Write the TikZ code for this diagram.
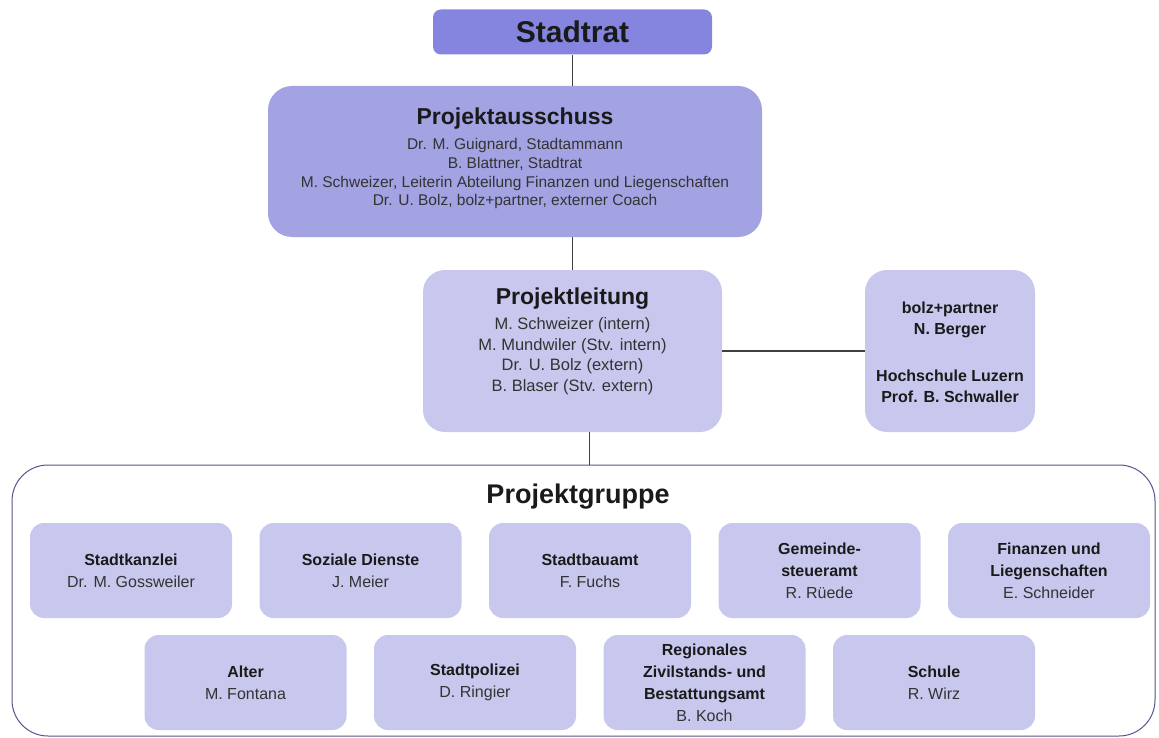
\documentclass[tikz,border=0pt]{standalone}
\usepackage{fontspec}
\setmainfont{Liberation Sans}
\usetikzlibrary{calc}
\definecolor{cStadt}{HTML}{8585E0}
\definecolor{cPA}{HTML}{A3A3E3}
\definecolor{cBox}{HTML}{C8C8EE}
\definecolor{cFrame}{HTML}{55558F}
\definecolor{cLine}{HTML}{404040}
\definecolor{cText}{HTML}{333333}
\definecolor{cHead}{HTML}{1A1A1A}
\begin{document}
\begin{tikzpicture}[x=1pt,y=-1pt,
  stadtbox/.style={rectangle, fill=cStadt, rounded corners=8pt, minimum width=279pt, minimum height=45pt, inner sep=0pt, text=cHead, font=\fontsize{30}{32}\selectfont\bfseries},
  pabox/.style={rectangle, fill=cPA, rounded corners=24pt, minimum width=494pt, minimum height=151pt, inner sep=0pt},
  plbox/.style={rectangle, fill=cBox, rounded corners=22pt, minimum height=162pt, inner sep=0pt},
  grpbox/.style={rectangle, fill=cBox, rounded corners=14pt, minimum width=202pt, minimum height=95pt, inner sep=0pt, align=center, text=cText, font=\fontsize{16}{22}\selectfont},
  txt/.style={align=center, inner sep=0pt, text=cText},
  frame/.style={rectangle, draw=cFrame, line width=1pt, rounded corners=36pt, minimum width=1143pt, minimum height=271pt, inner sep=0pt},
  conn/.style={draw=cLine, line width=1.3pt}
]
\useasboundingbox (0,0) rectangle (1159,738);

% top
\node[stadtbox] (st) at (572.5,32) {Stadtrat};
\node[pabox] (pa) at (515,161.5) {};
\node[txt, font=\fontsize{15.5}{18.8}\selectfont] (pat) at (515,158.5) {{\color{cHead}\fontsize{23}{27}\selectfont\bfseries Projektausschuss}\\[6pt]
Dr. M. Guignard, Stadtammann\\
B. Blattner, Stadtrat\\
M. Schweizer, Leiterin Abteilung Finanzen und Liegenschaften\\
Dr. U. Bolz, bolz+partner, externer Coach};

\node[plbox, minimum width=299pt] (pl) at (572.5,351) {};
\node[txt, font=\fontsize{16.5}{20.5}\selectfont] (plt) at (572.5,341) {{\color{cHead}\fontsize{23}{27}\selectfont\bfseries Projektleitung}\\[5pt]
M. Schweizer (intern)\\
M. Mundwiler (Stv. intern)\\
Dr. U. Bolz (extern)\\
B. Blaser (Stv. extern)};

\node[plbox, minimum width=170pt] (bz) at (950,351) {};
\node[txt, text=cHead, font=\fontsize{16}{21}\selectfont\bfseries] (bzt) at (950,352.5) {bolz+partner\\
N. Berger\\[26pt]
Hochschule Luzern\\
Prof. B. Schwaller};

% Projektgruppe frame
\node[frame] (pg) at (583.5,600.5) {};
\node[inner sep=0pt, text=cHead, font=\fontsize{27}{30}\selectfont\bfseries] (pgt) at (578,497) {Projektgruppe};

% row 1
\node[grpbox] (g1) at (131,570.5) {{\color{cHead}\bfseries Stadtkanzlei}\\Dr. M. Gossweiler};
\node[grpbox] (g2) at (360.5,570.5) {{\color{cHead}\bfseries Soziale Dienste}\\J. Meier};
\node[grpbox] (g3) at (590,570.5) {{\color{cHead}\bfseries Stadtbauamt}\\F. Fuchs};
\node[grpbox] (g4) at (819.5,570.5) {{\color{cHead}\bfseries Gemeinde-}\\{\color{cHead}\bfseries steueramt}\\R. Rüede};
\node[grpbox] (g5) at (1049,570.5) {{\color{cHead}\bfseries Finanzen und}\\{\color{cHead}\bfseries Liegenschaften}\\E. Schneider};
% row 2
\node[grpbox] (h1) at (245.5,682.5) {{\color{cHead}\bfseries Alter}\\M. Fontana};
\node[grpbox] (h2) at (475,682.5) {{\color{cHead}\bfseries Stadtpolizei}\\D. Ringier};
\node[grpbox] (h3) at (704.5,682.5) {{\color{cHead}\bfseries Regionales}\\{\color{cHead}\bfseries Zivilstands- und}\\{\color{cHead}\bfseries Bestattungsamt}\\B. Koch};
\node[grpbox] (h4) at (934,682.5) {{\color{cHead}\bfseries Schule}\\R. Wirz};

% connectors
\draw[conn] (st.south) -- (st.south |- pa.north);
\draw[conn] (pl.north) -- (pl.north |- pa.south);
\draw[conn] (pl.east) -- (bz.west);
\coordinate (plb) at ($(pl.south)+(17,0)$);
\draw[conn] (plb) -- (plb |- pg.north);
\end{tikzpicture}
\end{document}
